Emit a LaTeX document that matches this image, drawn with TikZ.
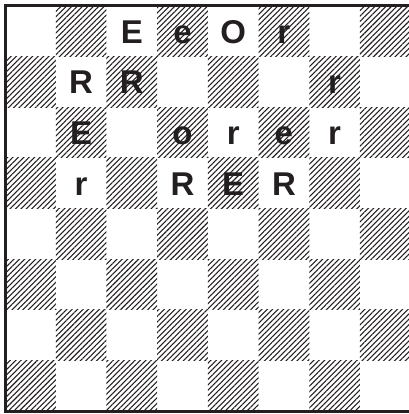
\documentclass[tikz,border=0pt]{standalone}
\usepackage{fontspec}
\setmainfont{Liberation Sans}
\usetikzlibrary{patterns.meta}
\definecolor{ink}{HTML}{231F20}

\begin{document}
\begin{tikzpicture}[
    hatch/.style={pattern={Lines[angle=45,distance=2.15pt,line width=0.6pt]},pattern color=ink},
    piece/.style={anchor=base,inner sep=0pt,text=ink,font=\fontsize{18.5}{18.5}\selectfont\bfseries},
    frame/.style={draw=ink,line width=1.7pt},
]
\useasboundingbox (-0.1,-0.054) rectangle (7.96,8.112);
% board squares, row 0 at top
\foreach \r in {0,...,7}{
  \foreach \c in {0,...,7}{
    \pgfmathtruncatemacro{\odd}{mod(\r+\c,2)}
    \ifnum\odd=1 \fill[hatch] (\c,7-\r) rectangle ++(1,1);\fi
  }
}
\draw[frame] (0,0) rectangle (8,8);
% row 0
\node[piece](a3)at(2.5,7.26){E};
\node[piece](a4)at(3.5,7.26){e};
\node[piece](a5)at(4.5,7.26){O};
\node[piece](a6)at(5.5,7.26){r};
% row 1
\node[piece](b2)at(1.5,6.26){R};
\node[piece](b3)at(2.5,6.26){R};
\node[piece](b7)at(6.5,6.26){r};
% row 2
\node[piece](c2)at(1.5,5.26){E};
\node[piece](c4)at(3.5,5.26){o};
\node[piece](c5)at(4.5,5.26){r};
\node[piece](c6)at(5.5,5.26){e};
\node[piece](c7)at(6.5,5.26){r};
% row 3
\node[piece](d2)at(1.5,4.26){r};
\node[piece](d4)at(3.5,4.26){R};
\node[piece](d5)at(4.5,4.26){E};
\node[piece](d6)at(5.5,4.26){R};
\end{tikzpicture}
\end{document}
